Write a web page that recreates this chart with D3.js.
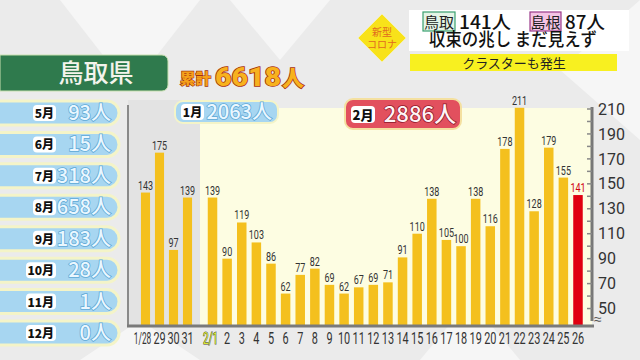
<!DOCTYPE html>
<html><head><meta charset="utf-8">
<script src="https://cdn.jsdelivr.net/npm/d3@7"></script>
<style>
html,body{margin:0;padding:0;background:#ececec;}
svg{display:block;font-family:"Noto Sans CJK JP","Noto Sans",sans-serif;}
</style></head>
<body><svg id="c" width="640" height="360"></svg>
<script>
// ---- data ----
const janDays = ["1/28","29","30","31"];
const janValues = [143,175,97,139];
const febDays = ["2/1","2","3","4","5","6","7","8","9","10","11","12","13","14","15","16","17","18","19","20","21","22","23","24","25","26"];
const febValues = [139,90,119,103,86,62,77,82,69,62,67,69,71,91,110,138,105,100,138,116,178,211,128,179,155,141];
const yTicks = [50,70,90,110,130,150,170,190,210];
const yMinor = [60,80,100,120,140,160,180,200];
const monthNames = ["5月","6月","7月","8月","9月","10月","11月","12月"];
const monthTotals = [93,15,318,658,183,28,1,0];
const prefName = "鳥取県";
const cumulative = 6618;
const janTotal = 2063, febTotal = 2886;

const svg = d3.select("#c");

// background
const bg = svg.append("g");
bg.append("rect").attr("width",640).attr("height",360).attr("fill","#ebebeb");
[[[60,0],[200,0],[130,90]],[[230,0],[330,0],[280,60]],[[420,360],[520,360],[470,300]],[[80,360],[200,360],[140,320]],[[560,70],[640,0],[640,140]]].forEach(p=>{
  bg.append("polygon").attr("points",p.map(q=>q.join(",")).join(" ")).attr("fill","#f6f6f6");
});

// scales
const y = d3.scaleLinear().domain([36,210]).range([326,109]);
const xJan = d3.scaleBand().domain(janDays).range([138.5,194.5]).paddingInner(0.35).paddingOuter(0.175);
const xFeb = d3.scaleBand().domain(febDays).range([205.2,585.3]).paddingInner(0.35).paddingOuter(0.175);

// panels
svg.append("rect").attr("x",128).attr("y",100).attr("width",72).attr("height",226).attr("fill","#e3e3e3");
svg.append("rect").attr("x",200).attr("y",108).attr("width",392).attr("height",218).attr("fill","#fdfde2");
svg.append("line").attr("x1",128).attr("x2",128).attr("y1",105).attr("y2",326).attr("stroke","#8a8a8a").attr("stroke-width",2);

// bars
const labelScale = d => d==="1/28" ? 0.52 : d==="2/1" ? 0.62 : 0.68;
const labelShift = d => d==="1/28" ? -3 : d==="2/1" ? -2 : 0;
function drawBars(days, vals, x, cls){
  const g = svg.append("g");
  const isLast = (i) => cls==="feb" && i===vals.length-1;
  g.selectAll("rect").data(days).join("rect")
    .attr("x",d=>x(d)).attr("width",x.bandwidth())
    .attr("y",(d,i)=>y(vals[i])).attr("height",(d,i)=>326-y(vals[i]))
    .attr("fill",(d,i)=> isLast(i) ? "#e00010" : "#f4c01e");
  g.selectAll("g.vl").data(days).join("g").attr("class","vl")
    .attr("transform",(d,i)=>`translate(${x(d)+x.bandwidth()/2},${y(vals[i])-3})`)
    .append("text").attr("transform","scale(0.72,1)").attr("text-anchor","middle")
    .attr("font-family","Roboto, sans-serif").attr("font-size",12.5)
    .attr("fill",(d,i)=> isLast(i) ? "#d00010" : "#333")
    .text((d,i)=>vals[i]);
  g.selectAll("g.xl").data(days).join("g").attr("class","xl")
    .attr("transform",d=>`translate(${x(d)+x.bandwidth()/2+labelShift(d)},344)`)
    .append("text").attr("transform",d=>`scale(${labelScale(d)},1)`).attr("text-anchor","middle")
    .attr("font-family","Roboto, sans-serif").attr("font-size",16)
    .attr("fill",d=> d==="2/1" ? "#d8e830" : "#333")
    .attr("stroke",d=> d==="2/1" ? "#444" : "none").attr("stroke-width",1).attr("paint-order","stroke")
    .text(d=>d);
}
drawBars(janDays, janValues, xJan, "jan");
drawBars(febDays, febValues, xFeb, "feb");

// baseline
svg.append("line").attr("x1",127).attr("x2",594).attr("y1",326).attr("y2",326).attr("stroke","#7a7a7a").attr("stroke-width",3);

// y axis
const ax = svg.append("g").attr("transform","translate(592,0)");
ax.call(d3.axisRight(y).tickValues(yTicks).tickSize(0).tickPadding(6).tickFormat(d3.format("d")));
ax.select(".domain").remove();
ax.selectAll("text").attr("font-family","Roboto, sans-serif").attr("font-size",16).attr("fill","#333");
ax.append("line").attr("x1",0).attr("x2",0).attr("y1",y(210)-2).attr("y2",321).attr("stroke","#777").attr("stroke-width",3);
ax.selectAll("line.tk").data(yTicks.concat(yMinor)).join("line").attr("class","tk")
  .attr("x1",-5).attr("x2",0).attr("y1",d=>y(d)).attr("y2",d=>y(d)).attr("stroke","#888").attr("stroke-width",1.5);
ax.append("text").attr("x",2).attr("y",324).attr("font-size",14).attr("fill","#555").text("≈");

// left: prefecture box
svg.append("path").attr("d","M0,55 H162 a6,6 0 0 1 6,6 V85 a6,6 0 0 1 -6,6 H0 Z").attr("fill","#2f7a4d").attr("stroke","#c8e0b0").attr("stroke-width",1);
svg.append("text").attr("x",96).attr("y",82).attr("text-anchor","middle").attr("font-size",25).attr("font-weight",500).attr("fill","#f4f4ec").text(prefName);

// cumulative
svg.append("text").attr("x",180).attr("y",84).attr("font-size",15).attr("font-weight",900)
  .attr("textLength",31).attr("lengthAdjust","spacingAndGlyphs")
  .attr("fill","#f5a01a").attr("stroke","#a03010").attr("stroke-width",1.2).attr("paint-order","stroke").text("累計");
svg.append("text").attr("x",215).attr("y",86).attr("font-family","Roboto, sans-serif").attr("font-size",25).attr("font-weight",900)
  .attr("textLength",66).attr("lengthAdjust","spacingAndGlyphs")
  .attr("fill","#f7b21e").attr("stroke","#a83010").attr("stroke-width",1.5).attr("paint-order","stroke").text(cumulative);
svg.append("text").attr("x",282).attr("y",86).attr("font-size",22).attr("font-weight",900)
  .attr("fill","#f7b21e").attr("stroke","#a83010").attr("stroke-width",1.5).attr("paint-order","stroke").text("人");

// month pills
const pillY = d3.scalePoint().domain(monthNames).range([113,333]);
const pills = svg.append("g").selectAll("g").data(monthNames).join("g").attr("transform",d=>`translate(0,${pillY(d)})`);
pills.append("rect").attr("x",-12).attr("y",-12).attr("width",131).attr("height",24).attr("rx",12)
  .attr("fill","#a7d6f1").attr("stroke","#f4f4c8").attr("stroke-width",3);
pills.append("rect").attr("x",d=>d.length>2?26:33).attr("y",-8).attr("width",d=>d.length>2?30:23).attr("height",16).attr("rx",4).attr("fill","#fff");
pills.append("text").attr("x",54).attr("y",5).attr("text-anchor","end").attr("font-size",12).attr("font-weight",900).attr("fill","#111").text(d=>d);
pills.append("text").attr("x",111).attr("y",7).attr("text-anchor","end").attr("font-size",20).attr("font-weight",500)
  .attr("fill","#eaf7ff").attr("stroke","#5fa9d6").attr("stroke-width",1.5).attr("paint-order","stroke")
  .text((d,i)=>monthTotals[i]+"人");

// 1月 pill
svg.append("rect").attr("x",175).attr("y",101).attr("width",103).attr("height",22).attr("rx",8).attr("fill","#a7d6f1").attr("stroke","#f4f4c8").attr("stroke-width",2);
svg.append("rect").attr("x",181).attr("y",104).attr("width",23).attr("height",16).attr("rx",4).attr("fill","#fff");
svg.append("text").attr("x",192.5).attr("y",117).attr("text-anchor","middle").attr("font-size",12).attr("font-weight",900).attr("fill","#111").text("1月");
svg.append("text").attr("x",272).attr("y",119).attr("text-anchor","end").attr("font-size",20).attr("font-weight",500)
  .attr("fill","#eaf7ff").attr("stroke","#5fa9d6").attr("stroke-width",1.5).attr("paint-order","stroke").text(janTotal+"人");

// 2月 pill
svg.append("rect").attr("x",345).attr("y",99).attr("width",116).attr("height",30).attr("rx",8).attr("fill","#e2505e").attr("stroke","#f4e0a0").attr("stroke-width",2);
svg.append("rect").attr("x",351).attr("y",106).attr("width",24).attr("height",17).attr("rx",4).attr("fill","#fff");
svg.append("text").attr("x",363).attr("y",119.5).attr("text-anchor","middle").attr("font-size",13).attr("font-weight",900).attr("fill","#111").text("2月");
svg.append("text").attr("x",456).attr("y",122).attr("text-anchor","end").attr("font-size",22).attr("font-weight",500)
  .attr("fill","#fff4f6").attr("stroke","#901828").attr("stroke-width",1.5).attr("paint-order","stroke").text(febTotal+"人");

// header
const hd = svg.append("g");
hd.append("polygon").attr("points","382,14 406,38 382,62 358,38").attr("fill","#f8e21a").attr("stroke","#f4f0b0").attr("stroke-width",1);
hd.append("text").attr("x",382).attr("y",36).attr("text-anchor","middle").attr("font-size",10).attr("fill","#e06a20").text("新型");
hd.append("text").attr("x",382).attr("y",48).attr("text-anchor","middle").attr("font-size",10).attr("fill","#e06a20").text("コロナ");
hd.append("rect").attr("x",409).attr("y",10).attr("width",220).attr("height",41).attr("fill","#fff");
hd.append("rect").attr("x",410).attr("y",54).attr("width",207).attr("height",17).attr("fill","#f8f020");
hd.append("rect").attr("x",423).attr("y",12).attr("width",32).attr("height",19).attr("fill","#e4f4e6").attr("stroke","#3aa070").attr("stroke-width",1.2);
hd.append("text").attr("x",439).attr("y",27.5).attr("text-anchor","middle").attr("font-size",15).attr("fill","#222").text("鳥取");
hd.append("text").attr("x",459).attr("y",29).attr("font-size",18).attr("font-weight",500).attr("fill","#111")
  .attr("textLength",52).attr("lengthAdjust","spacingAndGlyphs").text("141人");
hd.append("rect").attr("x",530).attr("y",12).attr("width",31).attr("height",19).attr("fill","#f4c4e4").attr("stroke","#9a3a8a").attr("stroke-width",1.2);
hd.append("text").attr("x",545.5).attr("y",27.5).attr("text-anchor","middle").attr("font-size",15).attr("fill","#222").text("島根");
hd.append("text").attr("x",565).attr("y",29).attr("font-size",18).attr("font-weight",500).attr("fill","#111")
  .attr("textLength",40).attr("lengthAdjust","spacingAndGlyphs").text("87人");
hd.append("text").attr("x",429).attr("y",46).attr("font-size",18).attr("font-weight",500).attr("fill","#111")
  .attr("textLength",168).attr("lengthAdjust","spacingAndGlyphs").text("収束の兆し まだ見えず");
hd.append("text").attr("x",514).attr("y",67.5).attr("text-anchor","middle").attr("font-size",13).attr("fill","#222").text("クラスターも発生");
</script></body></html>
